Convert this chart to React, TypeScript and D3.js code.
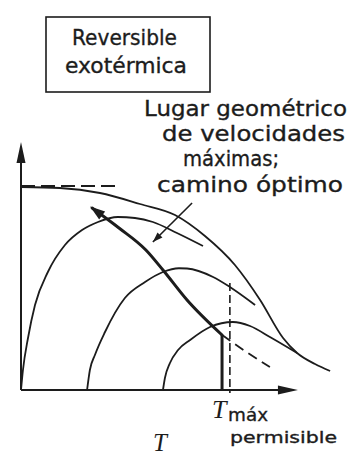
import React from "react";
import * as d3 from "d3";

// Conversion X_A versus temperature T, normalised units (T: 0..100, X: 0..1)
const W = 353;
const H = 455;

// Equilibrium curve (rate = 0)
const eqT = [0, 13.9, 28.2, 42.5, 55, 65.7, 76.4, 85.4, 93.6, 98.6, 105, 110.4];
const eqX = [0.812, 0.808, 0.788, 0.744, 0.7, 0.616, 0.5, 0.36, 0.208, 0.148, 0.104, 0.076];

// Horizontal asymptote of the equilibrium curve at low T
const asymT = [0, 33.6];
const asymX = [0.816, 0.816];

// Constant-rate curves (three rate levels)
const rate1T = [0, 0.7, 2.5, 5, 9.6, 15.7, 21.8, 27.5, 34.6, 40.7, 47.1, 55.7, 65];
const rate1X = [0, 0.08, 0.208, 0.34, 0.472, 0.58, 0.64, 0.672, 0.692, 0.688, 0.672, 0.628, 0.576];

const rate2T = [23.6, 24.6, 26.4, 30, 37.1, 44.3, 50.7, 56.4, 59.3, 68.6, 74.6, 83.6];
const rate2X = [0, 0.08, 0.14, 0.232, 0.368, 0.432, 0.472, 0.487, 0.486, 0.452, 0.412, 0.34];

const rate3T = [50.7, 51.4, 53.2, 56.1, 60.4, 67.5, 75.7, 81.8, 88.9, 98.6];
const rate3X = [0, 0.048, 0.108, 0.16, 0.2, 0.252, 0.272, 0.256, 0.212, 0.148];

// Locus of maximum rates (optimum path), solid part and its dashed continuation
const locusT = [25.4, 35, 44.6, 50.7, 59.3, 71.8];
const locusX = [0.728, 0.648, 0.56, 0.48, 0.36, 0.22];
const locusExtT = [71.8, 80, 88.9];
const locusExtX = [0.22, 0.156, 0.092];

// Maximum permissible temperature
const tMax = 74.6;
const tMaxTop = 0.428;

// Pointer from the annotation to the locus
const pointerT = [61.1, 47.1];
const pointerX = [0.748, 0.592];

// Axis extents
const axisTEnd = 98.9;
const axisXEnd = 0.992;

const labelLines = ["Lugar geométrico", "de velocidades", "máximas;", "camino óptimo"];
const titleLines = ["Reversible", "exotérmica"];

const x = d3.scaleLinear().domain([0, 100]).range([21, 301]);
const y = d3.scaleLinear().domain([0, 1]).range([390, 140]);

const line = d3
  .line<[number, number]>()
  .x((d) => x(d[0]))
  .y((d) => y(d[1]))
  .curve(d3.curveMonotoneX);

const straight = d3
  .line<[number, number]>()
  .x((d) => x(d[0]))
  .y((d) => y(d[1]));

const pts = (a: number[], b: number[]) => d3.zip(a, b) as [number, number][];

// Filled arrowhead with its tip at (tx, ty), pointing away from (fx, fy)
function arrowHead(fx: number, fy: number, tx: number, ty: number, len: number, half: number) {
  const dx = tx - fx;
  const dy = ty - fy;
  const L = Math.hypot(dx, dy);
  const ux = dx / L;
  const uy = dy / L;
  const bx = tx - ux * len;
  const by = ty - uy * len;
  return `M${tx},${ty}L${bx - uy * half},${by + ux * half}L${bx + uy * half},${by - ux * half}Z`;
}

const INK = "#1c1c1c";
const SANS = "'DejaVu Sans', Verdana, sans-serif";
const SERIF = "'Liberation Serif', 'DejaVu Serif', serif";

function Label(props: { x: number; y: number; w: number; size: number; children: string }) {
  return (
    <text
      x={props.x}
      y={props.y}
      fontFamily={SANS}
      fontSize={props.size}
      fill={INK}
      stroke={INK}
      strokeWidth={0.35}
      textLength={props.w}
      lengthAdjust="spacingAndGlyphs"
    >
      {props.children}
    </text>
  );
}

export default function App() {
  const x0 = x(0);
  const y0 = y(0);
  const locusPts = pts(locusT, locusX);
  const ptrPts = pts(pointerT, pointerX);

  return (
    <svg
      width={W}
      height={H}
      viewBox={`0 0 ${W} ${H}`}
      style={{ position: "absolute", left: 0, top: 0, background: "#fff" }}
    >
      <rect x={0} y={0} width={W} height={H} fill="#fff" />

      {/* Title box */}
      <rect x={46} y={17} width={164} height={75} fill="none" stroke={INK} strokeWidth={1.6} />
      <Label x={72} y={45} w={105} size={22}>{titleLines[0]}</Label>
      <Label x={65} y={73} w={122} size={22}>{titleLines[1]}</Label>

      {/* Annotation */}
      {[
        { x: 144, y: 116, w: 203 },
        { x: 162, y: 141, w: 183 },
        { x: 183, y: 166, w: 96 },
        { x: 157, y: 192, w: 186 },
      ].map((p, i) => (
        <Label key={i} x={p.x} y={p.y} w={p.w} size={21}>
          {labelLines[i]}
        </Label>
      ))}

      {/* Axes */}
      <line x1={x0} y1={y0} x2={x0} y2={y(axisXEnd) + 8} stroke={INK} strokeWidth={2} />
      <path d={arrowHead(x0, y0, x0, y(axisXEnd), 21, 4.5)} fill={INK} />
      <line x1={x0} y1={y0} x2={x(axisTEnd) - 8} y2={y0} stroke={INK} strokeWidth={2} />
      <path d={arrowHead(x0, y0, x(axisTEnd), y0, 20, 4.5)} fill={INK} />

      {/* Equilibrium curve and asymptote */}
      <path d={line(pts(eqT, eqX)) ?? ""} fill="none" stroke={INK} strokeWidth={1.8} />
      <path
        d={straight(pts(asymT, asymX)) ?? ""}
        fill="none"
        stroke={INK}
        strokeWidth={1.8}
        strokeDasharray="14 6"
      />

      {/* Constant-rate curves */}
      {[pts(rate1T, rate1X), pts(rate2T, rate2X), pts(rate3T, rate3X)].map((d, i) => (
        <path key={i} d={line(d) ?? ""} fill="none" stroke={INK} strokeWidth={1.8} />
      ))}

      {/* Maximum permissible temperature */}
      <line
        x1={x(tMax)}
        y1={y(tMaxTop)}
        x2={x(tMax)}
        y2={y0 + 3}
        stroke={INK}
        strokeWidth={1.6}
        strokeDasharray="8 4"
      />

      {/* Optimum path: vertical at the limit, then along the locus */}
      <path d={line(pts(locusExtT, locusExtX)) ?? ""} fill="none" stroke={INK} strokeWidth={1.8} strokeDasharray="10 6" />
      <line
        x1={x(locusT[locusT.length - 1])}
        y1={y0}
        x2={x(locusT[locusT.length - 1])}
        y2={y(locusX[locusX.length - 1])}
        stroke={INK}
        strokeWidth={3}
      />
      <path d={line(locusPts.slice().reverse()) ?? ""} fill="none" stroke={INK} strokeWidth={3} strokeLinecap="round" />
      <path
        d={arrowHead(x(locusPts[1][0]), y(locusPts[1][1]), x(locusPts[0][0]) - 2, y(locusPts[0][1]) - 1.5, 15, 5)}
        fill={INK}
      />

      {/* Pointer */}
      <line
        x1={x(ptrPts[0][0])}
        y1={y(ptrPts[0][1])}
        x2={x(ptrPts[1][0])}
        y2={y(ptrPts[1][1])}
        stroke={INK}
        strokeWidth={1.6}
      />
      <path
        d={arrowHead(x(ptrPts[0][0]), y(ptrPts[0][1]), x(ptrPts[1][0]), y(ptrPts[1][1]), 10, 3.5)}
        fill={INK}
      />

      {/* Axis labels */}
      <text x={212} y={418} fontFamily={SERIF} fontStyle="italic" fontSize={26} fill={INK}>
        T
      </text>
      <Label x={228} y={421} w={40} size={18}>máx</Label>
      <Label x={230} y={443} w={107} size={16}>permisible</Label>
      <text x={153} y={451} fontFamily={SERIF} fontStyle="italic" fontSize={25} fill={INK}>
        T
      </text>
    </svg>
  );
}
